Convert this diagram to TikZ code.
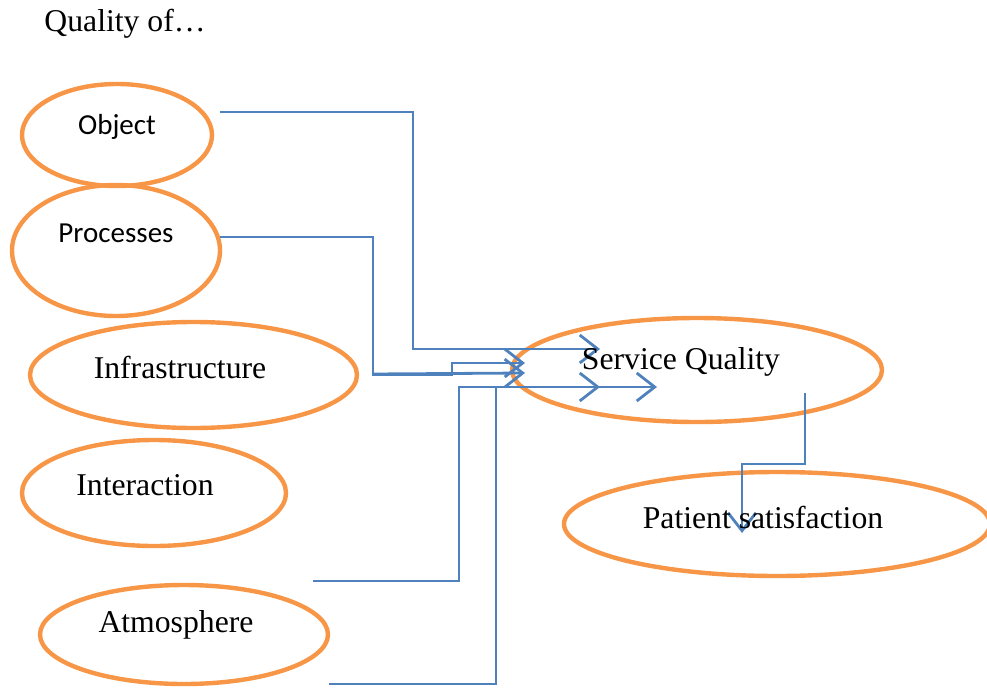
\documentclass[tikz,border=0pt]{standalone}
\usepackage{fontspec}
\setmainfont{Liberation Serif}
\newfontfamily\calib{Carlito}
\usetikzlibrary{shapes.geometric,arrows.meta}
\definecolor{oring}{HTML}{F79646}
\definecolor{bline}{HTML}{4F81BD}
\tikzset{
  ell/.style={ellipse, draw=oring, line width=4.4pt, inner sep=0pt},
  serifl/.style={font=\fontsize{31.7}{36}\selectfont, inner sep=0pt},
  sansl/.style={font=\calib\fontsize{29}{34}\selectfont, inner sep=0pt},
  conn/.style={draw=bline, line width=2.8pt},
  arr/.style={conn, -{Straight Barb[length=18pt,width=28pt,line width=2.8pt]}}
}
\begin{document}
\begin{tikzpicture}[x=1pt,y=-1pt]
\useasboundingbox (0,0) rectangle (987,688);
% ellipses
\node[ell, minimum width=190pt, minimum height=102pt] (obj) at (117,135) {};
\node[ell, minimum width=208pt, minimum height=131pt] (proc) at (116,250.5) {};
\node[ell, minimum width=327pt, minimum height=106pt] (infra) at (193.5,375) {};
\node[ell, minimum width=264pt, minimum height=106pt] (inter) at (154,493) {};
\node[ell, minimum width=288pt, minimum height=99pt] (atmo) at (184,634.5) {};
\node[ell, minimum width=370pt, minimum height=104pt] (sq) at (697,370) {};
\node[ell, minimum width=426pt, minimum height=104pt] (ps) at (777,524) {};
% texts
\node[serifl] (title) at (125,24) {Quality of\ldots};
\node[sansl] (tobj) at (117,127) {Object};
\node[sansl] (tproc) at (116,233) {Processes};
\node[serifl] (tinfra) at (180,367) {Infrastructure};
\node[serifl] (tinter) at (145,485) {Interaction};
\node[serifl] (tatmo) at (176,625) {Atmosphere};
% connector endpoints
\coordinate (objout) at (220,112);
\coordinate (procout) at (220,237);
\coordinate (infraout) at (372,374);
\coordinate (interout) at (313,581);
\coordinate (atmoout) at (329,684);
\coordinate (sqin1) at (600,349);
\coordinate (sqin2) at (525,363);
\coordinate (sqin3) at (525,373);
\coordinate (sqin4) at (600,387);
\coordinate (sqin5) at (657,387);
\coordinate (sqout) at (805,393);
\coordinate (psin) at (742,533);
% connectors
\draw[arr] (objout) -- (413,112) -- (413,349) -- (sqin1);
\draw[arr] (procout) -- (373,237) -- (373,375) -- (452,375) -- (452,363) -- (sqin2);
\draw[arr] (infraout) -- (sqin3);
\draw[arr] (interout) -- (459,581) -- (459,387) -- (sqin4);
\draw[arr] (atmoout) -- (496,684) -- (496,387) -- (sqin5);
\draw[arr] (sqout) -- (805,464) -- (742,464) -- (psin);
% text over ellipses
\node[serifl] (tsq) at (681,362) {Service Quality};
\node[serifl] (tps) at (763,517) {Patient satisfaction};
\end{tikzpicture}
\end{document}
